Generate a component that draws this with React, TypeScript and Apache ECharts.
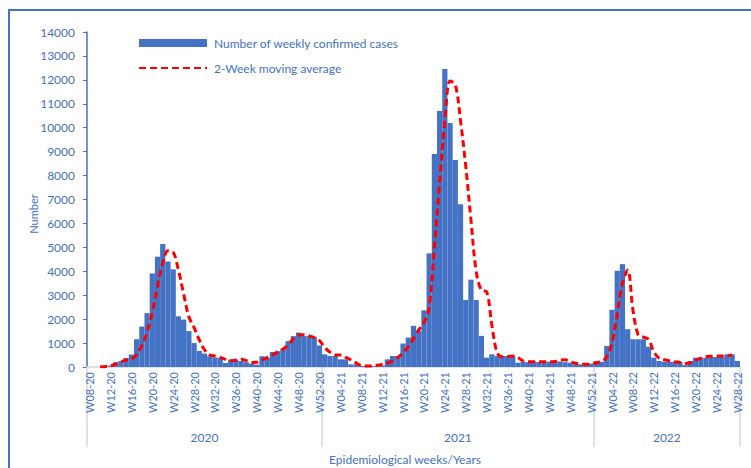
import React, { useEffect, useRef } from 'react';
import * as echarts from 'echarts';

// ---- categories ----
const yearLabels = ['2020', '2021', '2022'];
const yearSuffix = ['20', '21', '22'];
const firstWeek = [8, 1, 1];
const lastWeek = [52, 52, 28];

// ---- weekly confirmed cases ----
const cases2020 = [0, 0, 0, 10, 60, 200, 250, 380, 520, 1160, 1690, 2250, 3910, 4610, 5140, 4410, 4080, 2120, 1980, 1500, 1000, 670, 560, 450, 400, 380, 170, 310, 310, 250, 200, 140, 100, 450, 380, 630, 660, 770, 1080, 1290, 1440, 1290, 1290, 1250, 900];
const cases2021 = [530, 460, 460, 320, 320, 110, 110, 50, 40, 40, 40, 60, 320, 460, 460, 980, 1230, 1720, 1510, 2370, 4750, 8900, 10700, 12450, 10200, 8650, 6800, 2800, 3650, 2800, 1300, 390, 530, 460, 460, 460, 460, 180, 220, 200, 230, 210, 240, 220, 250, 230, 200, 180, 110, 110, 120, 140];
const cases2022 = [250, 220, 880, 2390, 4020, 4300, 1580, 1160, 1160, 1160, 850, 390, 250, 220, 220, 220, 220, 80, 250, 390, 390, 390, 420, 420, 420, 530, 530, 250];

// ---- 2-week moving average ----
const avg2020 = [null, null, 0, 20, 50, 120, 210, 290, 330, 520, 900, 1450, 2290, 3370, 4350, 4860, 4800, 4050, 3050, 2100, 1650, 1130, 720, 500, 460, 400, 320, 260, 290, 320, 260, 190, 200, 300, 390, 500, 620, 740, 920, 1180, 1340, 1350, 1300, 1230, 1100];
const avg2021 = [820, 620, 500, 500, 400, 300, 170, 60, 40, 40, 70, 110, 160, 250, 400, 600, 850, 1180, 1550, 1850, 2500, 5000, 7700, 10250, 11950, 11800, 10300, 8400, 6150, 4000, 3210, 3150, 1750, 600, 430, 440, 460, 390, 260, 220, 220, 220, 220, 220, 230, 290, 300, 220, 160, 120, 110, 110];
const avg2022 = [180, 230, 420, 1000, 2200, 3500, 4050, 2400, 1350, 1250, 1150, 640, 370, 300, 260, 220, 190, 150, 180, 280, 370, 430, 450, 460, 460, 470, 500, null];

const seriesNames = ['Number of weekly confirmed cases', '2-Week moving average'];
const yAxisTitle = 'Number';
const xAxisTitle = 'Epidemiological weeks/Years';

const BLUE = '#4472C4';
const FONT = 'Lato';

const categories: string[] = [];
const yearStartIndex: number[] = [];
yearSuffix.forEach((suf, y) => {
  yearStartIndex.push(categories.length);
  for (let w = firstWeek[y]; w <= lastWeek[y]; w++) {
    categories.push('W' + String(w).padStart(2, '0') + '-' + suf);
  }
});
const cases = [...cases2020, ...cases2021, ...cases2022];
const movingAvg = [...avg2020, ...avg2021, ...avg2022];

export default function App() {
  const ref = useRef<HTMLDivElement>(null);
  useEffect(() => {
    document.body.style.margin = '0';
    const chart = echarts.init(ref.current!, null, { renderer: 'svg' });
    chart.setOption({
      animation: false,
      textStyle: { fontFamily: FONT },
      grid: { left: 87, right: 11, top: 32, bottom: 101 },
      legend: {
        orient: 'vertical',
        left: 138,
        top: 37,
        padding: 0,
        itemWidth: 68,
        itemHeight: 8,
        itemGap: 13,
        textStyle: { color: BLUE, fontSize: 12, fontFamily: FONT, padding: [0, 0, 0, 2] },
        data: [
          { name: seriesNames[0], icon: 'rect' },
          { name: seriesNames[1], itemStyle: { opacity: 0 } },
        ],
      },
      xAxis: {
        type: 'category',
        data: categories,
        boundaryGap: true,
        axisLine: { show: true, lineStyle: { color: '#D9D9D9', width: 1.5 } },
        axisTick: {
          show: true,
          length: 80,
          interval: (i: number) => yearStartIndex.includes(i),
          lineStyle: { color: '#D9D9D9', width: 1.5 },
        },
        axisLabel: {
          interval: 3,
          rotate: 90,
          color: BLUE,
          fontSize: 11,
          fontFamily: FONT,
          margin: 5,
        },
      },
      yAxis: {
        type: 'value',
        min: 0,
        max: 14000,
        interval: 1000,
        splitLine: { show: false },
        axisLine: { show: true, lineStyle: { color: BLUE, width: 1.5 } },
        axisTick: { show: true, length: 4, lineStyle: { color: BLUE } },
        axisLabel: {
          color: BLUE,
          fontSize: 12,
          fontFamily: FONT,
          margin: 12,
          formatter: (v: number) => String(v),
        },
      },
      series: [
        {
          name: seriesNames[0],
          type: 'bar',
          data: cases,
          barCategoryGap: '0%',
          itemStyle: { color: BLUE },
        },
        {
          name: seriesNames[1],
          type: 'line',
          data: movingAvg,
          smooth: 0.35,
          symbol: 'none',
          connectNulls: false,
          lineStyle: { color: '#FF0000', width: 3, type: [7, 4] },
          itemStyle: { color: '#FF0000' },
          z: 5,
        },
      ],
    });

    const x0 = chart.convertToPixel({ xAxisIndex: 0 }, 0) as number;
    const x1 = chart.convertToPixel({ xAxisIndex: 0 }, 1) as number;
    const bw = x1 - x0;
    const bounds = [...yearStartIndex, categories.length].map((i) => x0 + (i - 0.5) * bw);
    const yearTexts = yearLabels.map((t, k) => ({
      type: 'text',
      x: (bounds[k] + bounds[k + 1]) / 2,
      y: 437,
      style: { text: t, fill: BLUE, font: `12px ${FONT}`, align: 'center', verticalAlign: 'middle' },
    }));

    chart.setOption({
      graphic: [
        {
          type: 'polyline',
          shape: { points: [[9, 480], [9, 10], [760, 10]] },
          style: { fill: 'none', stroke: BLUE, lineWidth: 2 },
          silent: true,
        },
        {
          type: 'text',
          x: 33,
          y: 214,
          rotation: Math.PI / 2,
          style: { text: yAxisTitle, fill: BLUE, font: `11px ${FONT}`, align: 'center', verticalAlign: 'middle' },
        },
        ...yearTexts,
        {
          type: 'text',
          x: 405,
          y: 459,
          style: { text: xAxisTitle, fill: BLUE, font: `12px ${FONT}`, align: 'center', verticalAlign: 'middle' },
        },
      ],
    });

    return () => chart.dispose();
  }, []);
  return <div ref={ref} style={{ width: 751, height: 468 }} />;
}
